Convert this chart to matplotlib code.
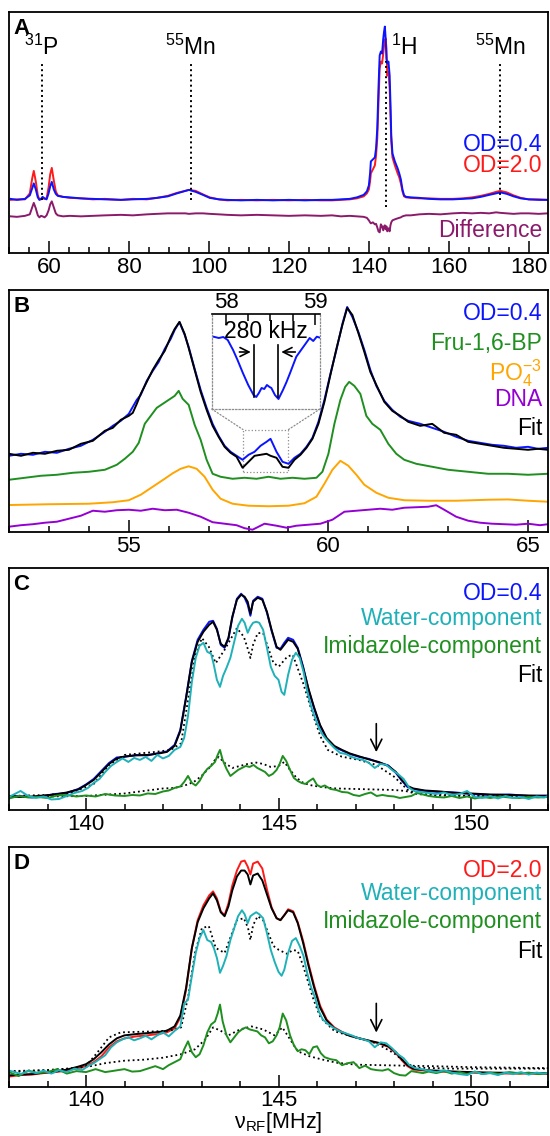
import numpy as np
import matplotlib
matplotlib.use('Agg')
import matplotlib.pyplot as plt
from matplotlib.ticker import MultipleLocator
from matplotlib.patches import Rectangle, ConnectionPatch

plt.rcParams['font.family'] = ['Liberation Sans', 'DejaVu Sans']
plt.rcParams['mathtext.fontset'] = 'custom'
plt.rcParams['mathtext.rm'] = 'Liberation Sans'
plt.rcParams['mathtext.it'] = 'Liberation Sans:italic'
plt.rcParams['mathtext.bf'] = 'Liberation Sans:bold'

# colours
col_blue = '#0a14ff'
col_red = '#ff1a1a'
col_diff = '#8b1a6b'
col_green = '#1f8f1f'
col_orange = '#ffa500'
col_dna = '#9400d3'
col_cyan = '#1fb1b8'

# ---------------- panel A : full spectrum (MHz, a.u.) ----------------
a_freq = [50.4, 52, 54, 55.2, 55.8, 56.2, 56.7, 57.2, 57.6, 58.0,
          58.4, 58.9, 59.4, 59.9, 60.3, 60.7, 61.2, 61.7, 62.2, 63.5,
          65.2, 68, 71, 74, 78, 81, 84.5, 87, 89.7, 92,
          94.1, 95, 96.7, 98.5, 100.2, 102.5, 104.6, 108, 112, 116,
          120, 124, 128, 130.8, 133, 135.2, 137, 138.7, 139.5, 140,
          140.3, 140.5, 141, 141.5, 141.8, 142.1, 142.4, 142.7, 143.0, 143.3,
          143.6, 143.8, 144.0, 144.2, 144.4, 144.6, 144.9, 145.2, 145.4, 145.6,
          145.9, 146.5, 147.2, 147.6, 148.0, 148.4, 148.8, 149.3, 150.5, 152.6,
          155, 157.9, 161, 163.5, 165.8, 168, 170.1, 171.8, 172.9, 174.5,
          176.2, 178, 180, 182.5, 184.8]
a_od04 = [54.5, 53.5, 54.5, 58, 65, 70, 64, 56, 53.5, 54.5,
          56.5, 55, 54, 60, 67, 71.5, 64, 59.5, 57.5, 56.5,
          56, 55, 54.5, 54, 53.5, 54, 54.5, 55.5, 57, 60,
          62.5, 63.5, 61.5, 58.5, 55.5, 54, 53.5, 53, 53.5, 53,
          53.5, 53, 53.5, 53.5, 54, 54.5, 56, 58.5, 62, 68,
          80, 92, 94, 96, 105, 125, 165, 198, 202, 200,
          215, 222, 227, 215, 195, 190, 192, 178, 150, 118,
          100, 92, 85, 80, 74, 64, 58, 56.5, 56, 55.5,
          54.5, 54, 54, 54.5, 55, 56.5, 58.5, 60, 61, 59.5,
          57, 55, 54, 53.5, 53.5]
a_od20 = [53.5, 54, 54, 60, 75, 82.5, 72, 58, 54, 54,
          55, 54.5, 55, 66, 79, 85.5, 73, 62, 58, 56.5,
          55.5, 55, 54, 54.5, 53.5, 54.5, 54, 55.5, 57.5, 60.5,
          62.5, 63.5, 62.5, 59, 56, 54, 53, 53.5, 53, 53.5,
          53, 53.5, 53, 53, 53.5, 54, 55, 57, 60, 64,
          72, 80, 84, 88, 98, 115, 150, 185, 192, 190,
          200, 208, 213, 215, 205, 178, 182, 165, 140, 112,
          96, 88, 80, 76, 70, 62, 57, 56, 55.5, 55,
          55, 54.5, 54.5, 55, 56, 57.5, 59.5, 61.5, 62.5, 61,
          58, 55.5, 54, 54, 53.5]
a_diff = [37, 36.5, 37.5, 39, 46, 50.5, 45, 38, 36, 37.5,
          37, 36, 38, 43, 49, 52, 46, 40, 38, 37,
          37.5, 37, 37.5, 38, 38.5, 38, 39, 39.5, 40, 40,
          40, 39.5, 40, 40, 39.5, 39, 38.5, 38, 38.5, 38,
          37.5, 38, 37.5, 38, 37, 37.5, 37, 36.5, 35.5, 33,
          31, 30, 31, 29, 29.5, 26, 22, 21, 29, 27,
          23, 27, 28, 24, 27, 22, 25, 22, 28, 31,
          33, 34, 35, 35.5, 36, 37, 37.5, 38, 38, 39,
          39.5, 39, 40, 40.5, 40, 40.5, 40, 41, 40.5, 40,
          39.5, 40, 40, 39.5, 40]
a_lines = [58.2, 95.4, 144.2, 172.9]
a_names = ['${}^{31}$P', '${}^{55}$Mn', '${}^{1}$H', '${}^{55}$Mn']

# ---------------- panel B : 31P region ----------------
b_freq = [52.0, 52.3, 52.6, 52.9, 53.2, 53.5, 53.8, 54.1, 54.4, 54.6,
          54.8, 55.0, 55.1, 55.2, 55.3, 55.45, 55.6, 55.75, 55.9, 56.05,
          56.15, 56.27, 56.4, 56.5, 56.65, 56.8, 56.95, 57.1, 57.25, 57.4,
          57.55, 57.7, 57.85, 58.0, 58.15, 58.3, 58.45, 58.55, 58.7, 58.85,
          59.0, 59.15, 59.3, 59.45, 59.6, 59.75, 59.9, 60.05, 60.2, 60.35,
          60.47, 60.6, 60.75, 60.9, 61.05, 61.2, 61.4, 61.6, 61.8, 62.0,
          62.3, 62.6, 62.9, 63.2, 63.5, 63.8, 64.1, 64.4, 64.7, 65.0,
          65.25, 65.5]
b_od04 = [76, 78, 77, 80, 79, 83, 86, 92, 100, 106,
          111, 118, 125, 132, 137, 151, 161, 170, 183, 193,
          202, 210, 197, 185, 163, 142, 124, 108, 96, 86,
          80, 76, 72, 77, 80, 86, 90, 93, 80, 70,
          68, 74, 78, 85, 94, 110, 132, 158, 182, 208,
          225, 215, 200, 182, 162, 146, 131, 122, 115, 111,
          108, 104, 100, 95, 91, 89, 87, 86, 84, 85,
          83, 84]
b_fit = [78, 76, 79, 78, 81, 82, 88, 91, 101, 104,
         112, 116, 119, 128, 138, 150, 162, 172, 181, 195,
         203, 210, 198, 184, 162, 140, 122, 106, 95, 85,
         79, 75, 64, 70, 76, 77, 78, 76, 74, 65,
         64, 72, 77, 84, 93, 108, 130, 157, 183, 207,
         224, 217, 199, 180, 160, 147, 130, 121, 116, 110,
         106, 108, 99, 97, 90, 88, 86, 84, 83, 82,
         83, 82]
b_fru = [(52.0, 52), (52.4, 54), (52.8, 56), (53.2, 57), (53.6, 59), (54.0, 60),
         (54.4, 62), (54.7, 67), (54.9, 73), (55.1, 80), (55.25, 89), (55.4, 108),
         (55.55, 116), (55.7, 124), (55.85, 128), (56.0, 132), (56.15, 136), (56.25, 141),
         (56.35, 133), (56.5, 127), (56.65, 107), (56.8, 92), (56.95, 72), (57.1, 58),
         (57.3, 55), (57.6, 53), (57.9, 54), (58.2, 53), (58.5, 55), (58.8, 53),
         (59.1, 54), (59.4, 53), (59.7, 54), (59.85, 60), (60.0, 78), (60.15, 108),
         (60.3, 132), (60.42, 145), (60.52, 150), (60.65, 146), (60.8, 138), (60.95, 116),
         (61.1, 108), (61.3, 102), (61.5, 88), (61.7, 78), (61.9, 72), (62.2, 68),
         (62.6, 65), (63.0, 62), (63.5, 60), (64.0, 58), (64.5, 58), (65.0, 57), (65.5, 58)]
b_po4 = [(52.0, 26.7), (53.0, 27.5), (54.0, 28), (54.6, 29.5), (55.0, 31.5), (55.3, 37),
         (55.6, 45), (55.9, 53), (56.1, 58.5), (56.3, 63), (56.5, 65.5), (56.7, 63),
         (56.9, 55), (57.1, 42), (57.3, 33), (57.6, 28), (58.0, 26), (58.5, 25.5),
         (59.0, 26), (59.4, 28.5), (59.7, 35), (59.9, 48), (60.1, 62), (60.3, 71),
         (60.5, 66), (60.7, 57), (60.9, 47), (61.2, 39), (61.5, 34), (61.9, 31.5),
         (62.5, 31), (63.2, 31), (64.0, 32), (64.5, 32.3), (65.0, 31), (65.5, 30)]
b_dna = [(52.0, 5), (52.3, 6.5), (52.6, 7.5), (52.9, 9), (53.2, 10), (53.5, 13),
         (53.8, 16), (54.1, 21), (54.4, 20), (54.7, 21.5), (55.0, 22), (55.3, 21),
         (55.6, 23), (55.9, 21.5), (56.2, 22), (56.5, 19), (56.8, 15), (57.1, 9.5),
         (57.4, 8), (57.7, 6.5), (57.9, 3.5), (58.1, 2), (58.4, 8), (58.7, 6),
         (58.95, 4), (59.2, 6), (59.5, 7), (59.8, 8), (60.1, 12), (60.4, 20),
         (60.7, 21), (61.0, 22), (61.3, 23), (61.6, 22), (61.9, 24), (62.2, 24.5),
         (62.5, 25), (62.7, 26.5), (62.9, 22), (63.2, 15), (63.5, 11), (63.8, 9),
         (64.1, 8), (64.4, 7.5), (64.7, 7), (65.0, 8), (65.3, 6.5), (65.5, 7.5)]
# zoomed centre of the OD=0.4 spectrum (inset)
b_zoom = [(57.86, 72.3), (57.92, 71), (57.97, 72), (58.02, 69), (58.08, 59), (58.13, 49),
          (58.19, 36), (58.25, 24), (58.31, 14), (58.34, 12), (58.37, 16), (58.4, 21),
          (58.43, 20), (58.46, 24), (58.49, 22), (58.51, 21), (58.55, 14), (58.59, 10),
          (58.64, 19), (58.68, 27), (58.72, 36), (58.79, 52.3), (58.87, 62.3), (58.94, 71),
          (58.98, 68), (59.02, 72.3), (59.05, 71.5)]
split_lo, split_hi = 58.31, 58.59   # 280 kHz splitting

# ---------------- panels C and D : 1H region ----------------
h_freq = [138.0, 138.3, 138.6, 138.9, 139.2, 139.5, 139.8, 140.0, 140.2, 140.4,
          140.6, 140.8, 141.0, 141.3, 141.6, 141.9, 142.1, 142.3, 142.45, 142.6,
          142.75, 142.9, 143.05, 143.2, 143.3, 143.4, 143.5, 143.6, 143.7, 143.8,
          143.92, 144.03, 144.12, 144.2, 144.27, 144.34, 144.46, 144.58, 144.7, 144.82,
          144.95, 145.05, 145.15, 145.25, 145.38, 145.5, 145.64, 145.78, 145.92, 146.08,
          146.25, 146.45, 146.65, 146.85, 147.1, 147.35, 147.6, 147.85, 148.05, 148.2,
          148.35, 148.5, 148.8, 149.2, 149.6, 150.0, 150.5, 151.0, 151.5, 152.0]
c_od04 = [14, 14, 12.5, 14, 16, 17, 21, 25.5, 31, 39,
          47, 52.5, 53, 55, 54.5, 57, 58.5, 65, 80, 113,
          149, 170, 180, 188, 189, 181, 165, 162, 171, 192,
          211, 216, 212, 205, 194, 209, 213, 211, 197, 179,
          162, 161, 167, 172, 170, 162, 143, 120, 102, 84,
          71, 63, 59.5, 56, 53, 51, 47.5, 44.5, 37, 29.5,
          23, 21, 19, 18, 17.5, 16, 15, 15.5, 14, 14.5]
c_fit = [13.5, 13, 13.5, 14.5, 15.5, 17.5, 20.5, 25, 30, 38,
         46, 51.5, 53.5, 54.5, 55, 56.5, 58, 64, 79, 112,
         148, 168, 178, 185, 188, 180, 166, 163, 172, 193,
         210, 215, 213, 208, 196, 208, 212, 210, 198, 180,
         163, 160, 165, 170, 168, 161, 142, 121, 103, 85,
         72, 64, 60, 56.5, 53.5, 50.5, 48, 44, 38, 30,
         24, 21.5, 19.5, 18.5, 17, 16.5, 15.5, 15, 14.5, 14]
d_od20 = [10.5, 12, 12.5, 14, 15, 16.5, 19, 21, 25, 31,
          40, 46, 49, 51, 52, 53.5, 55, 59, 70, 98,
          140, 168, 183, 193, 197, 190, 177, 173, 185, 203,
          218, 227, 228, 222, 214, 225, 227, 220, 199, 181,
          170, 168, 173, 179, 177, 166, 147, 124, 103, 82,
          68, 60, 55.5, 52, 49, 46.5, 44, 40.5, 34, 27,
          21, 17.5, 16.5, 15.5, 15, 14.5, 14, 13.5, 13.5, 13]
d_fit = [11.7, 12.5, 13, 14.5, 15.5, 17.5, 20.5, 23, 28, 35,
         43, 49, 52, 53.3, 54.3, 55.5, 56.7, 61, 72, 100,
         140, 166, 180, 190, 195, 188, 176, 172, 182, 198,
         212, 218, 218, 214, 204, 213, 215, 208, 194, 180,
         170, 168, 173, 178, 176, 165, 145, 122, 101, 80,
         67, 59, 55, 51.5, 49, 46.7, 44.5, 41, 35, 28,
         22, 18.5, 17, 16.3, 15.5, 15, 14.5, 14.3, 14, 14]

w_freq = [138.0, 138.15, 138.3, 138.5, 138.7, 138.9, 139.1, 139.3, 139.5, 139.7,
          139.9, 140.05, 140.2, 140.35, 140.5, 140.65, 140.8, 140.95, 141.1, 141.25,
          141.4, 141.55, 141.7, 141.85, 142.0, 142.15, 142.3, 142.45, 142.55, 142.65,
          142.75, 142.85, 142.95, 143.05, 143.15, 143.25, 143.32, 143.4, 143.48, 143.56,
          143.65, 143.75, 143.85, 143.95, 144.05, 144.12, 144.2, 144.27, 144.34, 144.42,
          144.5, 144.6, 144.7, 144.8, 144.9, 145.0, 145.08, 145.15, 145.25, 145.35,
          145.45, 145.55, 145.65, 145.75, 145.85, 145.95, 146.05, 146.15, 146.3, 146.45,
          146.6, 146.75, 146.9, 147.05, 147.2, 147.35, 147.5, 147.65, 147.8, 147.95,
          148.1, 148.25, 148.4, 148.55, 148.7, 148.9, 149.1, 149.3, 149.5, 149.7,
          149.9, 150.1, 150.3, 150.5, 150.7, 150.9, 151.1, 151.3, 151.5, 151.7,
          151.9, 152.0]
c_water = [13, 16, 19, 14, 12, 13.5, 10.5, 11, 14, 17,
           19, 22, 27, 31, 38, 44, 48, 51.5, 48, 52,
           50, 53, 49, 55, 51.5, 54, 60, 63, 72, 94,
           128, 152, 164, 167, 158, 156, 145, 130, 123, 134,
           142, 152, 168, 184, 191, 187, 177, 183, 187, 188,
           187, 180, 162, 143, 134, 130, 118, 115, 135, 150,
           157, 152, 138, 118, 103, 92, 82, 75, 68, 62,
           57, 56, 53, 51, 50, 47, 42, 46, 45, 40,
           36, 31, 22, 18.5, 18, 17, 16, 17.5, 15, 16,
           19, 13, 12, 14, 11.5, 14, 12, 13, 11, 13.5,
           12.5, 14]
d_water = [16.5, 15, 13, 16, 14, 16.5, 13.5, 17, 15, 18.5,
           17, 21, 24, 28, 32, 40, 45, 48, 50, 47,
           49, 51.5, 48, 52, 55, 51, 56.5, 61, 84, 88,
           112, 135, 150, 158, 148, 146, 140, 130, 115, 122,
           132, 148, 160, 172, 178, 174, 165, 172, 174, 176,
           174, 170, 155, 138, 126, 116, 112, 118, 135, 147,
           150, 142, 132, 114, 100, 90, 76, 68, 63, 59,
           56, 54, 52, 49.5, 48, 46, 40, 45, 44, 39,
           33, 29, 22, 19, 18, 16.5, 15, 17, 14.5, 13,
           12, 15.5, 13, 14, 12, 14.5, 13, 15, 12.5, 14.5,
           13.5, 14]

i_freq = [138.0, 138.25, 138.5, 138.75, 139.0, 139.25, 139.5, 139.75, 140.0, 140.25,
          140.5, 140.75, 141.0, 141.2, 141.4, 141.6, 141.8, 142.0, 142.15, 142.3,
          142.45, 142.55, 142.65, 142.75, 142.85, 142.95, 143.05, 143.15, 143.25, 143.35,
          143.42, 143.48, 143.55, 143.65, 143.75, 143.85, 143.95, 144.05, 144.15, 144.25,
          144.35, 144.45, 144.55, 144.65, 144.75, 144.85, 144.95, 145.03, 145.11, 145.2,
          145.3, 145.4, 145.5, 145.6, 145.7, 145.8, 145.9, 146.0, 146.1, 146.2,
          146.35, 146.5, 146.65, 146.8, 146.95, 147.1, 147.25, 147.4, 147.55, 147.7,
          147.85, 148.0, 148.15, 148.3, 148.45, 148.6, 148.75, 148.9, 149.1, 149.3,
          149.5, 149.7, 149.9, 150.1, 150.3, 150.5, 150.75, 151.0, 151.25, 151.5,
          151.75, 152.0]
c_imid = [11.5, 14, 12.5, 13, 12, 14.5, 15, 13.5, 14.5, 13.5,
          16, 14.5, 14, 15, 14.5, 16.5, 16, 18.5, 19.5, 22,
          23.5, 28, 34, 27, 24.5, 29, 36, 41, 44, 48,
          55, 60, 50, 41, 34, 37, 40, 42, 44, 43,
          45, 42, 40, 38, 34, 36, 40, 46, 54, 49,
          40, 32, 29, 27, 26, 29, 31.5, 25, 23, 24.5,
          21, 20, 18, 17.5, 15, 14, 16, 17.5, 14, 15,
          14, 13.5, 12, 13, 14, 17, 15.5, 14, 13, 12.5,
          14, 12, 13.5, 11.5, 13, 12, 13.5, 12.5, 12, 13,
          12.5, 13]
d_imid = [15, 11, 16.5, 14, 15, 18, 13.5, 16, 15, 18,
          15, 16.5, 18, 15.5, 16, 18.5, 21, 18, 22, 25,
          28, 38, 46, 35, 30, 33, 42, 55, 63, 66,
          74, 83, 66, 52, 45, 50, 55, 58, 60, 58,
          57, 56, 52, 50, 44, 46, 52, 60, 74, 67,
          52, 42, 36, 38, 37, 33, 40, 41, 34, 30,
          28, 27, 22, 24, 25, 19, 21.5, 18, 17, 16.5,
          18, 14, 12, 11.5, 16, 15, 14, 15.5, 14, 16,
          13.5, 15, 13, 15.5, 13, 14.5, 13, 15, 13.5, 14.5,
          13, 14]

# fitted components (dotted)
c_water_fit = [(138.0, 14), (139.0, 15), (139.6, 17), (140.2, 26), (140.6, 45), (141.0, 55),
               (141.8, 58), (142.2, 60), (142.47, 66.7), (142.65, 110), (142.83, 153),
               (143.01, 171.7), (143.19, 163), (143.37, 146.7), (143.6, 160), (143.92, 181.7),
               (144.1, 173), (144.21, 160), (144.27, 151.7), (144.34, 165), (144.46, 176.7),
               (144.6, 176.7), (144.87, 146.7), (145.01, 143.3), (145.23, 153.3), (145.37, 155),
               (145.64, 126.7), (145.91, 93.3), (146.09, 73.3), (146.28, 60), (146.64, 53.3),
               (147.09, 50), (147.54, 45), (148.0, 33.3), (148.36, 20), (148.63, 16),
               (150.0, 14), (152.0, 14)]
c_imid_fit = [(138.0, 13), (139.0, 13.5), (140.0, 14), (141.0, 16.5), (141.5, 19), (142.0, 21.5),
              (142.3, 22), (142.6, 25), (142.8, 28), (143.0, 34), (143.2, 42), (143.35, 50),
              (143.45, 53), (143.6, 47), (143.8, 42), (144.0, 44), (144.2, 46), (144.4, 47.5),
              (144.6, 46), (144.8, 43), (145.0, 44), (145.15, 48), (145.3, 40), (145.45, 33),
              (145.6, 28), (145.8, 25), (146.1, 23), (146.5, 21.5), (147.0, 21), (147.5, 20.5),
              (148.0, 20), (148.3, 19), (148.6, 16), (149.0, 14.5), (150.0, 14), (151.0, 13.5),
              (152.0, 13.5)]
d_water_fit = [(138.0, 16), (139.0, 17), (139.6, 18.5), (140.0, 21), (140.3, 35), (140.6, 50),
               (140.9, 55), (141.3, 55.5), (141.8, 56), (142.2, 57), (142.47, 60), (142.65, 90),
               (142.83, 135), (143.01, 160), (143.19, 162), (143.37, 140), (143.6, 135),
               (143.92, 168), (144.1, 170), (144.21, 160), (144.27, 148), (144.34, 163),
               (144.46, 172), (144.6, 168), (144.87, 142), (145.01, 138), (145.23, 134),
               (145.37, 138), (145.5, 137), (145.64, 122), (145.91, 88), (146.09, 70),
               (146.46, 56), (147.09, 49), (147.54, 44), (148.0, 34), (148.36, 23),
               (148.6, 19.5), (149.5, 18.5), (150.5, 18.5), (152.0, 18.5)]
d_imid_fit = [(138.0, 15), (139.0, 17), (140.0, 20), (140.5, 24), (141.0, 26.5), (141.5, 27.5),
              (142.0, 29.5), (142.47, 33), (142.83, 38), (143.1, 48), (143.3, 60), (143.48, 57),
              (143.7, 52), (144.0, 58), (144.3, 61), (144.6, 58), (144.9, 52), (145.1, 60),
              (145.3, 48), (145.5, 36), (145.8, 31), (146.1, 28), (146.5, 24.5), (147.0, 22.5),
              (148.0, 21.7), (149.0, 21), (150.0, 20), (152.0, 19)]
arrow_at = 147.54


def unzip(pairs):
    return [p[0] for p in pairs], [p[1] for p in pairs]


def style(ax, xlim, major, minor, pad=3):
    ax.set_xlim(*xlim)
    ax.set_ylim(0, 242)
    ax.set_yticks([])
    ax.xaxis.set_major_locator(MultipleLocator(major))
    ax.xaxis.set_minor_locator(MultipleLocator(minor))
    ax.tick_params(axis='x', which='major', direction='in', length=8.5, width=1.1,
                   labelsize=16, pad=pad)
    ax.tick_params(axis='x', which='minor', direction='in', length=4.5, width=1.1)
    for s in ax.spines.values():
        s.set_linewidth(1.3)


def legend_texts(ax, items):
    for txt, col, yy in items:
        ax.text(0.989, yy, txt, color=col, fontsize=16.5, ha='right', va='center',
                transform=ax.transAxes)


def panel_label(ax, s):
    ax.text(0.008, 0.975, s, fontsize=16, fontweight='bold', ha='left', va='top',
            transform=ax.transAxes)


fig = plt.figure(figsize=(5.5, 11.36), dpi=100)
W, H = 550.0, 1136.0
ax_a = fig.add_axes([9 / W, 1 - 253.3 / H, 539 / W, 241.7 / H])
ax_b = fig.add_axes([9 / W, 1 - 531.7 / H, 539 / W, 241.7 / H])
ax_c = fig.add_axes([9 / W, 1 - 810 / H, 539 / W, 242.3 / H])
ax_d = fig.add_axes([9 / W, 1 - 1087 / H, 539 / W, 240.3 / H])

lw = 1.4

# ---- A ----
ax_a.plot(a_freq, a_od20, color=col_red, lw=lw)
ax_a.plot(a_freq, a_od04, color=col_blue, lw=lw)
ax_a.plot(a_freq, a_diff, color=col_diff, lw=lw)
for i, (xl, nm) in enumerate(zip(a_lines, a_names)):
    ax_a.plot([xl, xl], [46.7 if i == 2 else 53.3, 193], color='black', ls=':', lw=1.4)
    if i == 2:
        ax_a.text(xl + 1.4, 199, nm, fontsize=16.5, ha='left', va='baseline')
    else:
        ax_a.text(xl, 199, nm, fontsize=16.5, ha='center', va='baseline')
style(ax_a, (50, 184.8), 20, 5)
panel_label(ax_a, 'A')
legend_texts(ax_a, [('OD=0.4', col_blue, 0.452), ('OD=2.0', col_red, 0.365),
                    ('Difference', col_diff, 0.096)])

# ---- B ----
ax_b.plot(*unzip(b_dna), color=col_dna, lw=lw)
ax_b.plot(*unzip(b_po4), color=col_orange, lw=lw)
ax_b.plot(*unzip(b_fru), color=col_green, lw=lw)
ax_b.plot(b_freq, b_od04, color=col_blue, lw=lw)
ax_b.plot(b_freq, b_fit, color='black', lw=lw)
style(ax_b, (52, 65.5), 5, 1)
panel_label(ax_b, 'B')
legend_texts(ax_b, [('OD=0.4', col_blue, 0.904), ('Fru-1,6-BP', col_green, 0.779),
                    ('PO$_4^{-3}$', col_orange, 0.655), ('DNA', col_dna, 0.545),
                    ('Fit', 'black', 0.428)])

zx0, zx1, zy0, zy1 = 57.86, 59.0, 60, 102.3
ax_b.add_patch(Rectangle((zx0, zy0), zx1 - zx0, zy1 - zy0, fill=False, ls=':',
                         lw=0.9, ec='#8c8c8c'))

ax_in = fig.add_axes([211.7 / W, 1 - 409 / H, 108.3 / W, 94.7 / H])
ax_in.set_facecolor('none')
xb, yb = unzip(b_zoom)
ax_in.plot(xb, yb, color=col_blue, lw=lw)
ax_in.set_xlim(57.84, 59.056)
ax_in.set_ylim(0, 94.7)
ax_in.set_yticks([])
ax_in.xaxis.tick_top()
ax_in.xaxis.set_major_locator(MultipleLocator(1))
ax_in.xaxis.set_minor_locator(MultipleLocator(0.25))
ax_in.tick_params(axis='x', which='major', direction='in', length=8, width=1.1,
                  labelsize=16, pad=1)
ax_in.tick_params(axis='x', which='minor', direction='in', length=5, width=1.1)
ax_in.spines['top'].set_linewidth(1.2)
for side in ['left', 'right', 'bottom']:
    ax_in.spines[side].set_linestyle(':')
    ax_in.spines[side].set_color('#8c8c8c')
    ax_in.spines[side].set_linewidth(0.9)
for xs in (split_lo, split_hi):
    ax_in.plot([xs, xs], [12, 64], color='black', lw=1.2)
ax_in.annotate('', xy=(split_lo, 57), xytext=(58.12, 57),
               arrowprops=dict(arrowstyle='->', lw=1.2, color='black', mutation_scale=16))
ax_in.annotate('', xy=(split_hi, 57), xytext=(58.81, 57),
               arrowprops=dict(arrowstyle='->', lw=1.2, color='black', mutation_scale=16))
ax_in.text((split_lo + split_hi) / 2, 77, '280 kHz', fontsize=16.5, ha='center', va='center')

for xa, xbb in [(0, zx0), (1, zx1)]:
    con = ConnectionPatch(xyA=(xa, 0), coordsA=ax_in.transAxes, xyB=(xbb, zy1),
                          coordsB=ax_b.transData, ls=':', lw=0.9, color='#8c8c8c')
    fig.add_artist(con)

# ---- C ----
ax_c.plot(h_freq, c_od04, color=col_blue, lw=lw)
ax_c.plot(h_freq, c_fit, color='black', lw=lw)
ax_c.plot(*unzip(c_water_fit), color='black', ls=':', lw=1.3)
ax_c.plot(*unzip(c_imid_fit), color='black', ls=':', lw=1.3)
ax_c.plot(i_freq, c_imid, color=col_green, lw=lw)
ax_c.plot(w_freq, c_water, color=col_cyan, lw=lw)
ax_c.annotate('', xy=(arrow_at, 55), xytext=(arrow_at, 89),
              arrowprops=dict(arrowstyle='->', lw=1.2, color='black', mutation_scale=20))
style(ax_c, (138, 152), 5, 1)
panel_label(ax_c, 'C')
legend_texts(ax_c, [('OD=0.4', col_blue, 0.894), ('Water-component', col_cyan, 0.79),
                    ('Imidazole-component', col_green, 0.674), ('Fit', 'black', 0.557)])

# ---- D ----
ax_d.plot(h_freq, d_od20, color=col_red, lw=lw)
ax_d.plot(h_freq, d_fit, color='black', lw=lw)
ax_d.plot(*unzip(d_water_fit), color='black', ls=':', lw=1.3)
ax_d.plot(*unzip(d_imid_fit), color='black', ls=':', lw=1.3)
ax_d.plot(i_freq, d_imid, color=col_green, lw=lw)
ax_d.plot(w_freq, d_water, color=col_cyan, lw=lw)
ax_d.annotate('', xy=(arrow_at, 52), xytext=(arrow_at, 87),
              arrowprops=dict(arrowstyle='->', lw=1.2, color='black', mutation_scale=20))
style(ax_d, (138, 152), 5, 1, pad=2)
panel_label(ax_d, 'D')
legend_texts(ax_d, [('OD=2.0', col_red, 0.903), ('Water-component', col_cyan, 0.807),
                    ('Imidazole-component', col_green, 0.689), ('Fit', 'black', 0.565)])
ax_d.set_xlabel('ν$_{\\mathrm{RF}}$[MHz]', fontsize=15.5, labelpad=-0.5)

fig.savefig('out.png', dpi=100)
